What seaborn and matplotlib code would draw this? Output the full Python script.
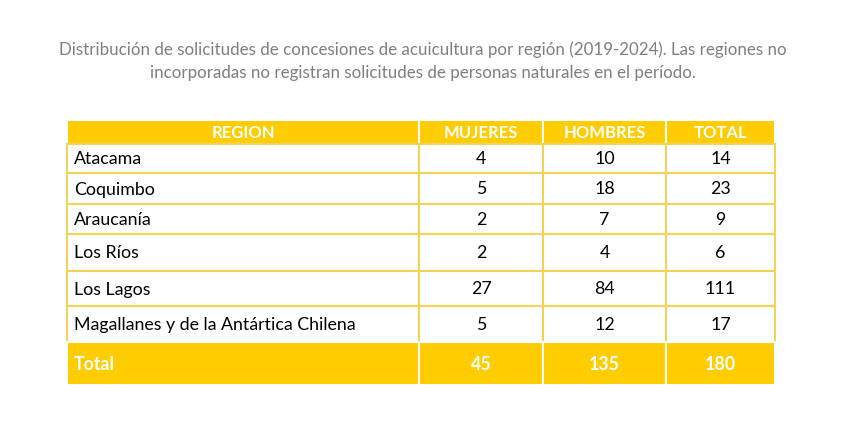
import matplotlib.pyplot as plt
import seaborn as sns
from matplotlib.patches import Rectangle

# table content
columns = ['REGION', 'MUJERES', 'HOMBRES', 'TOTAL']
regions = ['Atacama', 'Coquimbo', 'Araucanía', 'Los Ríos', 'Los Lagos',
           'Magallanes y de la Antártica Chilena']
mujeres = [4, 5, 2, 2, 27, 5]
hombres = [10, 18, 7, 4, 84, 12]
total = [14, 23, 9, 6, 111, 17]
total_row = ['Total', 45, 135, 180]

title = ('Distribución de solicitudes de concesiones de acuicultura por región (2019-2024). Las regiones no\n'
         'incorporadas no registran solicitudes de personas naturales en el período.')

sns.set_theme(style='white')
plt.rcParams['font.family'] = ['Lato', 'DejaVu Sans']

YELLOW = '#FFCC00'
GRID = '#F2D35A'

# layout in pixels
col_edges = [67, 419, 543, 666, 775]
row_edges = [120, 144, 173, 204, 234, 271, 306, 342, 385]

fig = plt.figure(figsize=(8.55, 4.47), dpi=100)
ax = fig.add_axes([0, 0, 1, 1])
ax.set_xlim(0, 855)
ax.set_ylim(447, 0)
ax.axis('off')

ax.text(423, 61, title, ha='center', va='center', fontsize=12.2,
        color='#7F7F7F', linespacing=1.5)

# header
for j, name in enumerate(columns):
    x0, x1 = col_edges[j], col_edges[j + 1]
    y0, y1 = row_edges[0], row_edges[1]
    ax.add_patch(Rectangle((x0, y0), x1 - x0, y1 - y0, facecolor=YELLOW,
                           edgecolor='white', lw=1.5))
    ax.text((x0 + x1) / 2, (y0 + y1) / 2 + 1, name, ha='center', va='center',
            fontsize=12, fontweight='bold', color='white')

# body
body = list(zip(regions, mujeres, hombres, total))
for i, row in enumerate(body):
    y0, y1 = row_edges[i + 1], row_edges[i + 2]
    for j, val in enumerate(row):
        x0, x1 = col_edges[j], col_edges[j + 1]
        ax.add_patch(Rectangle((x0, y0), x1 - x0, y1 - y0, facecolor='white',
                               edgecolor=GRID, lw=1.5))
        if j == 0:
            ax.text(x0 + 7, (y0 + y1) / 2 + 1, val, ha='left', va='center',
                    fontsize=12.8, color='black')
        else:
            ax.text((x0 + x1) / 2, (y0 + y1) / 2 + 1, str(val), ha='center',
                    va='center', fontsize=12.8, color='black')

# total row
y0, y1 = row_edges[-2], row_edges[-1]
for j, val in enumerate(total_row):
    x0, x1 = col_edges[j], col_edges[j + 1]
    ax.add_patch(Rectangle((x0, y0), x1 - x0, y1 - y0, facecolor=YELLOW,
                           edgecolor='white', lw=1.5))
    if j == 0:
        ax.text(x0 + 7, (y0 + y1) / 2 + 1, val, ha='left', va='center',
                fontsize=12.8, fontweight='bold', color='white')
    else:
        ax.text((x0 + x1) / 2, (y0 + y1) / 2 + 1, str(val), ha='center',
                va='center', fontsize=12.8, fontweight='bold', color='white')

plt.savefig('out.png', dpi=100)
